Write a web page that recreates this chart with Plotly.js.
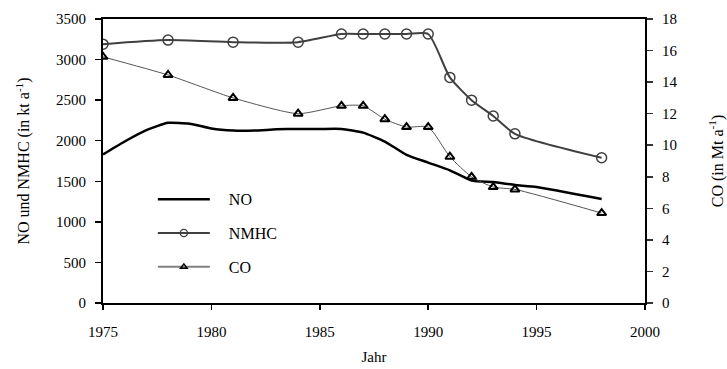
<!DOCTYPE html>
<html>
<head>
<meta charset="utf-8">
<script src="https://cdn.plot.ly/plotly-3.0.1.min.js"></script>
<style>html,body{margin:0;padding:0;background:#fff;}#chart{width:727px;height:369px;}</style>
</head>
<body>
<div id="chart"></div>
<script>
// NO (kt/a), annual
const noYears = [1975,1976,1977,1978,1979,1980,1981,1982,1983,1984,1985,1986,1987,1988,1989,1990,1991,1992,1993,1994,1995,1998];
const noValues = [1830,1990,2130,2220,2210,2150,2125,2125,2140,2145,2145,2145,2100,1990,1825,1730,1635,1510,1490,1455,1430,1282];
// NMHC (kt/a)
const nmhcYears = [1975,1978,1981,1984,1986,1987,1988,1989,1990,1991,1992,1993,1994,1998];
const nmhcValues = [3190,3240,3215,3215,3315,3315,3315,3315,3315,2780,2500,2305,2085,1790];
// CO (Mt/a)
const coYears = [1975,1978,1981,1984,1986,1987,1988,1989,1990,1991,1992,1993,1994,1998];
const coValues = [15.6,14.45,13.0,12.0,12.5,12.5,11.65,11.15,11.15,9.27,8.0,7.35,7.2,5.7];

const fam = '"Liberation Serif", "Times New Roman", serif';
const font = {family: fam, size: 15, color: '#000'};
const titleFont = {family: fam, size: 16, color: '#000'};

const traces = [
  {x: noYears, y: noValues, name: 'NO', type: 'scatter', mode: 'lines',
   line: {color: '#000', width: 2.5, shape: 'spline', smoothing: 0.5},
   legendgroup: 'a', yaxis: 'y'},
  {x: nmhcYears, y: nmhcValues, name: 'NMHC', type: 'scatter', mode: 'lines+markers',
   line: {color: '#404040', width: 2, shape: 'spline', smoothing: 0.6},
   marker: {symbol: 'circle-open', size: 10, color: '#404040', line: {width: 1.5, color: '#404040'}},
   legendgroup: 'b', yaxis: 'y'},
  {x: coYears, y: coValues, name: 'CO', type: 'scatter', mode: 'lines+markers',
   line: {color: '#555', width: 1, shape: 'spline', smoothing: 0.6},
   marker: {symbol: 'triangle-up-open', size: 8, color: '#000', line: {width: 2, color: '#000'}},
   legendgroup: 'c', yaxis: 'y2'}
];

const layout = {
  width: 727, height: 369,
  margin: {l: 103, r: 82, t: 19, b: 66},
  paper_bgcolor: '#fff', plot_bgcolor: '#fff',
  font: font,
  showlegend: true,
  legend: {x: 0.092, y: 0.425, xanchor: 'left', yanchor: 'top', bgcolor: 'rgba(0,0,0,0)',
           font: {family: fam, size: 16, color: '#000'}, tracegroupgap: 10, itemwidth: 52},
  xaxis: {range: [1975, 2000], tick0: 1975, dtick: 5, ticks: 'outside', ticklen: 5, tickwidth: 1.5,
          tickcolor: '#000', showline: true, linewidth: 2, linecolor: '#000', mirror: true,
          showgrid: false, zeroline: false, ticklabelstandoff: 9,
          title: {text: 'Jahr', font: font, standoff: 12}},
  yaxis: {range: [0, 3500], dtick: 500, ticks: 'outside', ticklen: 6, tickwidth: 1.5, tickcolor: '#000',
          showline: true, linewidth: 2, linecolor: '#000', showgrid: false, zeroline: false,
          ticklabelstandoff: 6,
          title: {text: 'NO und NMHC (in kt a<sup>-1</sup>)', font: titleFont, standoff: 22}},
  yaxis2: {range: [0, 18], dtick: 2, overlaying: 'y', side: 'right', ticks: 'outside', ticklen: 6,
           tickwidth: 1.5, tickcolor: '#333', showline: true, linewidth: 2, linecolor: '#000',
           showgrid: false, zeroline: false, ticklabelstandoff: 6,
           title: {text: 'CO (in Mt a<sup>-1</sup>)', font: titleFont, standoff: 38}},
  yaxis3: {range: [0, 18], dtick: 2, overlaying: 'y', side: 'right', ticks: 'inside', ticklen: 6,
           tickwidth: 1.5, tickcolor: '#333', showline: false, showticklabels: false,
           showgrid: false, zeroline: false}
};

Plotly.newPlot('chart', traces, layout, {displayModeBar: false, staticPlot: true}).then(function (gd) {
  // legend styling tweaks to match the reference legend
  gd.querySelectorAll('.legend [clip-path]').forEach(function (e) { e.removeAttribute('clip-path'); });
  gd.querySelectorAll('.legend .legendtext').forEach(function (t) {
    t.setAttribute('x', parseFloat(t.getAttribute('x') || 0) + 14);
  });
  gd.querySelectorAll('.legend .legendpoints path.scatterpts').forEach(function (p) {
    const tr = p.getAttribute('transform') || '';
    p.setAttribute('transform', tr + ' scale(0.72)');
    p.style.strokeWidth = '2px';
  });
  const items = gd.querySelectorAll('.legend .traces');
  if (items.length === 3) {
    const coLine = items[2].querySelector('.legendlines path');
    if (coLine) { coLine.style.strokeWidth = '2px'; coLine.style.stroke = '#808080'; }
  }
});
</script>
</body>
</html>
